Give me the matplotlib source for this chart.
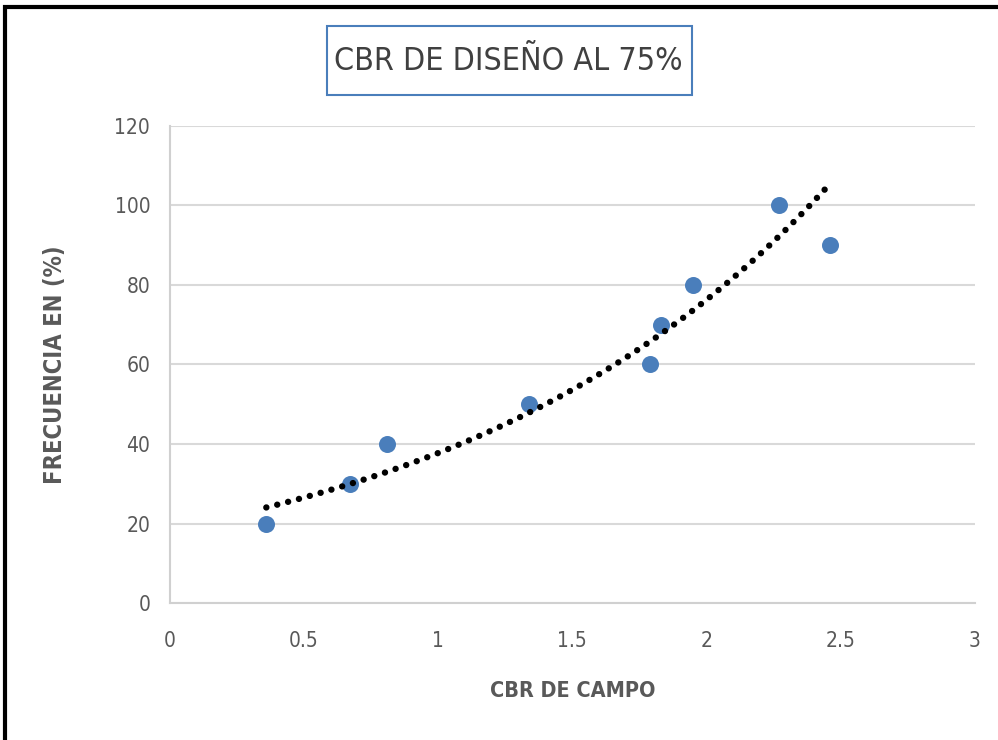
import matplotlib.pyplot as plt
import numpy as np
from matplotlib.patches import Rectangle

plt.rcParams['font.family'] = ['DejaVu Sans']
plt.rcParams['font.stretch'] = 'condensed'

# datos
cbr_campo = [0.36, 0.67, 0.81, 1.34, 1.79, 1.83, 1.95, 2.27, 2.46]
frecuencia = [20, 30, 40, 50, 60, 70, 80, 100, 90]
x_ticks = [0, 0.5, 1, 1.5, 2, 2.5, 3]
x_labels = ["0", "0.5", "1", "1.5", "2", "2.5", "3"]
y_ticks = [0, 20, 40, 60, 80, 100, 120]

fig = plt.figure(figsize=(9.98, 7.40), dpi=100)
ax = fig.add_axes([0.170, 0.185, 0.807, 0.645])

# linea de tendencia exponencial
b, ln_a = np.polyfit(cbr_campo, np.log(frecuencia), 1)
xt = np.linspace(min(cbr_campo), max(cbr_campo), 100)
ax.plot(xt, np.exp(ln_a) * np.exp(b * xt), color="black", linewidth=4.6,
        linestyle=(0, (0.01, 1.75)), dash_capstyle="round", zorder=3)

ax.scatter(cbr_campo, frecuencia, s=150, color="#4a7ebb", zorder=2, linewidths=0)

ax.set_xlim(0, 3)
ax.set_ylim(0, 120)
ax.set_xticks(x_ticks, x_labels)
ax.set_yticks(y_ticks)
ax.grid(axis="y", color="#d9d9d9", linewidth=1.5)
ax.set_axisbelow(True)
for s in ["top", "right"]:
    ax.spines[s].set_visible(False)
for s in ["left", "bottom"]:
    ax.spines[s].set_color("#d0d0d0")
    ax.spines[s].set_linewidth(1.5)
ax.tick_params(length=0, labelsize=15, labelcolor="#595959")
ax.tick_params(axis="y", pad=14)
ax.tick_params(axis="x", pad=20)

ax.set_xlabel("CBR DE CAMPO", fontsize=15.5, fontweight="bold", color="#595959", labelpad=22)
ax.set_ylabel("FRECUENCIA EN (%)", fontsize=17, fontweight="bold", color="#595959", labelpad=34)

fig.text(0.5095, 0.917, "CBR DE DISEÑO AL 75%", fontsize=23, color="#404040",
         ha="center", va="center")
fig.patches.append(Rectangle((327 / 998, 1 - 95 / 740), 365 / 998, 69 / 740,
                             transform=fig.transFigure, fill=False,
                             edgecolor="#4a7ebb", linewidth=1.5))

# marco negro de la imagen
fig.patches.append(Rectangle((0.005, -0.05), 1.05, 1.041, transform=fig.transFigure,
                             fill=False, edgecolor="black", linewidth=3))

fig.savefig("out.png", dpi=100)
